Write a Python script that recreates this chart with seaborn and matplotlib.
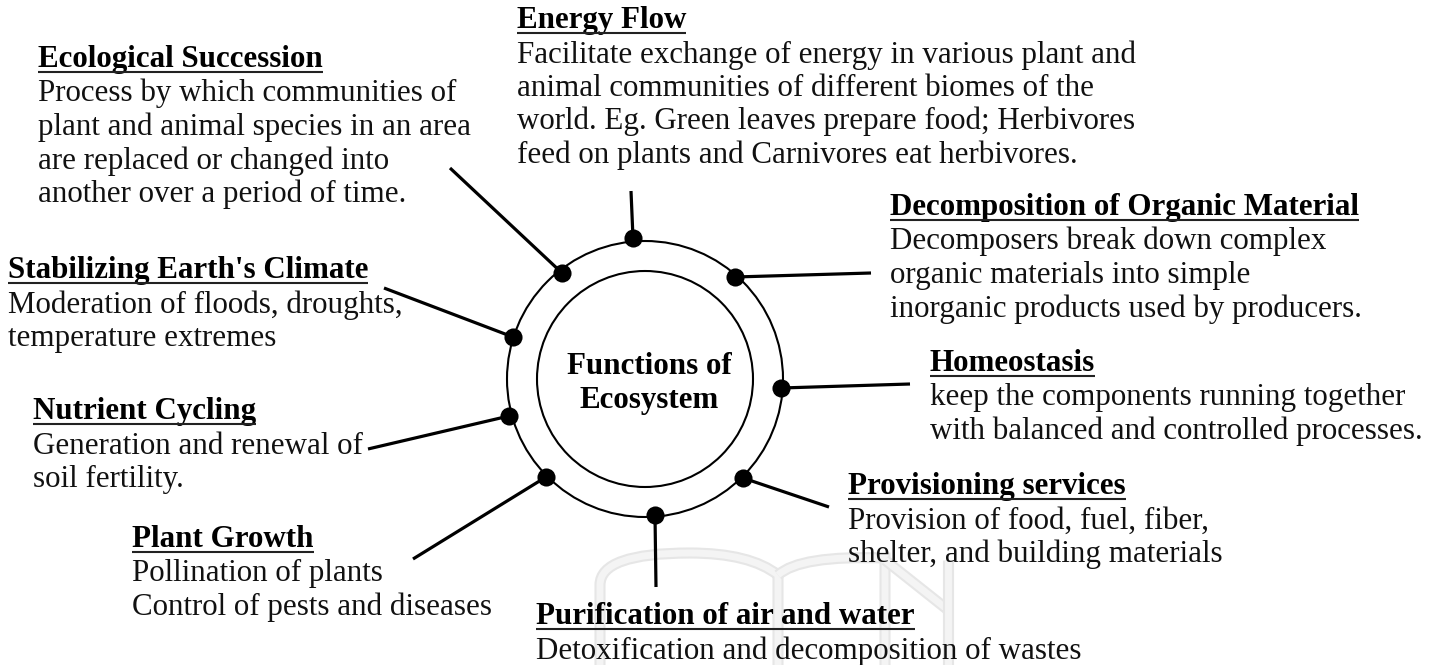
import numpy as np
import pandas as pd
import seaborn as sns
import matplotlib
matplotlib.use("Agg")
import matplotlib.pyplot as plt
from matplotlib.patches import Circle, PathPatch
from matplotlib.path import Path
import matplotlib.patheffects as pe

# ---------------- data ----------------
center_title = ["Functions of", "Ecosystem"]

titles = [
    "Energy Flow",
    "Ecological Succession",
    "Decomposition of Organic Material",
    "Stabilizing Earth's Climate",
    "Homeostasis",
    "Nutrient Cycling",
    "Provisioning services",
    "Plant Growth",
    "Purification of air and water",
]

bodies = [
    ["Facilitate exchange of energy in various plant and",
     "animal communities of different biomes of the",
     "world. Eg. Green leaves prepare food; Herbivores",
     "feed on plants and Carnivores eat herbivores."],
    ["Process by which communities of",
     "plant and animal species in an area",
     "are replaced or changed into",
     "another over a period of time."],
    ["Decomposers break down complex",
     "organic materials into simple",
     "inorganic products used by producers."],
    ["Moderation of floods, droughts,",
     "temperature extremes"],
    ["keep the components running together",
     "with balanced and controlled processes."],
    ["Generation and renewal of",
     "soil fertility."],
    ["Provision of food, fuel, fiber,",
     "shelter, and building materials"],
    ["Pollination of plants",
     "Control of pests and diseases"],
    ["Detoxification and decomposition of wastes"],
]

# layout (pixel coordinates, y downward)
label_x = [517, 38, 890, 8, 930, 33, 848, 132, 536]
label_base = [28, 67, 215, 278, 371, 419, 494, 547, 624]

dot_x = [633, 562, 735, 513, 781, 509, 546, 743, 655]
dot_y = [238, 273, 277, 337, 388, 416, 477, 478, 515]
end_x = [631, 450, 871, 384, 910, 368, 413, 829, 656]
end_y = [191, 168, 273, 288, 384, 449, 559, 507, 587]

# ---------------- figure ----------------
sns.set_theme(style="white")
plt.rcParams["font.family"] = ["Liberation Serif", "DejaVu Serif"]

W, H = 1436, 665
fig = plt.figure(figsize=(W / 100, H / 100), dpi=100)
ax = fig.add_axes([0, 0, 1, 1])
ax.set_xlim(0, W)
ax.set_ylim(H, 0)
ax.set_axis_off()
fig.patch.set_facecolor("white")

FS = 22.3  # points (~31 px)

# faint watermark (open-book outline)
wm_fx = [pe.Stroke(linewidth=8, foreground="#e6e6e6"), pe.Normal()]
book = Path(
    [(600, 665), (600, 585), (600, 553), (690, 553), (750, 553), (778, 575),
     (778, 665)],
    [Path.MOVETO, Path.LINETO, Path.CURVE3, Path.CURVE3, Path.CURVE3,
     Path.CURVE3, Path.LINETO])
book2 = Path(
    [(778, 575), (800, 555), (885, 558), (885, 665)],
    [Path.MOVETO, Path.CURVE3, Path.CURVE3, Path.LINETO])
for p in (book, book2):
    pp = PathPatch(p, fill=False, ec="#f4f4f4", lw=5, zorder=0)
    pp.set_path_effects(wm_fx)
    ax.add_patch(pp)
nshape = Path([(885, 560), (948, 610)], [Path.MOVETO, Path.LINETO])
nshape2 = Path([(948, 560), (948, 665)], [Path.MOVETO, Path.LINETO])
for p in (nshape, nshape2):
    pp = PathPatch(p, fill=False, ec="#f4f4f4", lw=5, zorder=0)
    pp.set_path_effects(wm_fx)
    ax.add_patch(pp)

# circles
cx, cy = 645, 379
ax.add_patch(Circle((cx, cy), 138, fill=False, lw=1.5, ec="black", zorder=2))
ax.add_patch(Circle((cx, cy), 108, fill=False, lw=1.5, ec="black", zorder=2))

# connector lines
for x0, y0, x1, y1 in zip(dot_x, dot_y, end_x, end_y):
    ax.plot([x0, x1], [y0, y1], color="black", lw=2.3, zorder=3,
            solid_capstyle="butt")

# dots
dots = pd.DataFrame({"x": dot_x, "y": dot_y})
sns.scatterplot(data=dots, x="x", y="y", ax=ax, s=170, color="black",
                edgecolor="black", linewidth=0, zorder=4, legend=False)
ax.set_xlim(0, W)
ax.set_ylim(H, 0)
ax.set_axis_off()

# center text
ax.text(649, 374, center_title[0], fontsize=FS, fontweight="bold",
        ha="center", va="baseline", color="black", zorder=5)
ax.text(649, 408, center_title[1], fontsize=FS, fontweight="bold",
        ha="center", va="baseline", color="black", zorder=5)

# labels
title_artists = []
for t, body, x, yb in zip(titles, bodies, label_x, label_base):
    ta = ax.text(x, yb, t, fontsize=FS, fontweight="bold", ha="left",
                 va="baseline", color="black", zorder=5)
    title_artists.append((ta, x, yb))
    for i, line in enumerate(body):
        ax.text(x, yb + 34.5 + 33.5 * i, line, fontsize=FS, ha="left",
                va="baseline", color="#111111", zorder=5)

# underlines for titles
fig.canvas.draw()
renderer = fig.canvas.get_renderer()
inv = ax.transData.inverted()
for ta, x, yb in title_artists:
    bb = ta.get_window_extent(renderer)
    (x0, _), (x1, _) = inv.transform([[bb.x0, bb.y0], [bb.x1, bb.y1]])
    ax.plot([x0, x1], [yb + 4.5, yb + 4.5], color="#222222", lw=1.5,
            zorder=5, solid_capstyle="butt")

fig.savefig("out.png", dpi=100, facecolor="white")
